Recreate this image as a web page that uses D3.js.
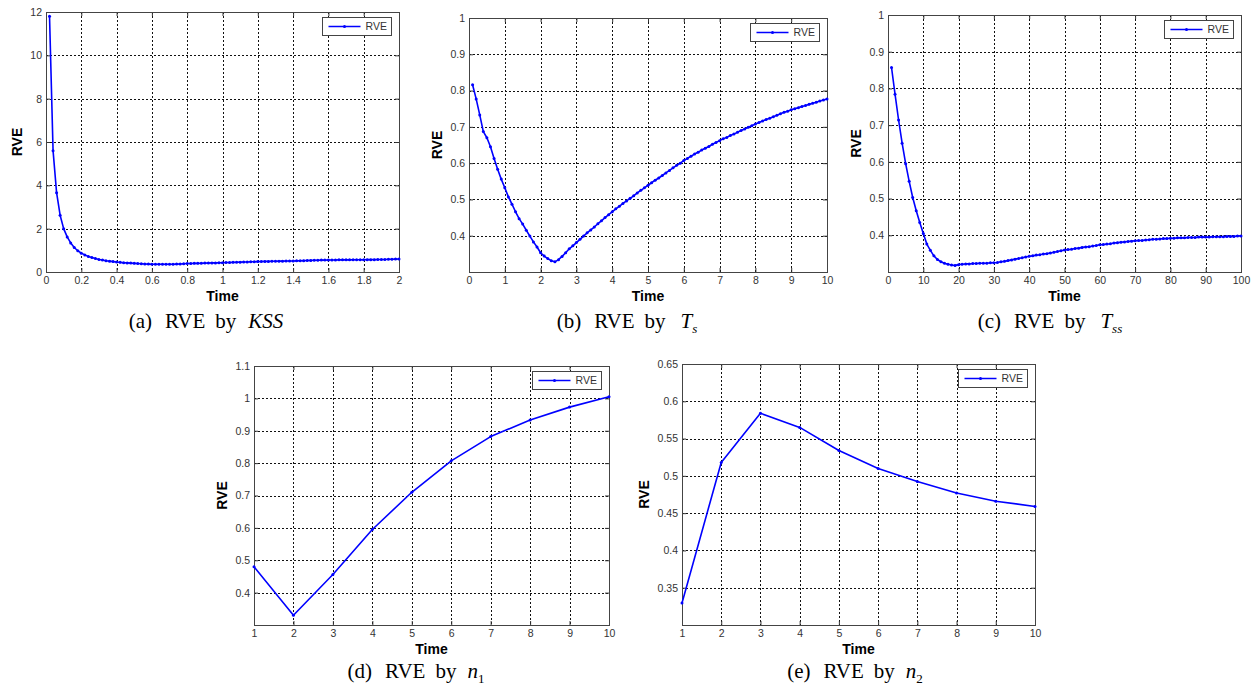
<!DOCTYPE html>
<html>
<head>
<meta charset="utf-8">
<script src="https://cdn.jsdelivr.net/npm/d3@7"></script>
<style>
  body { margin: 0; background: #fff; }
  svg { display: block; }
</style>
</head>
<body>
<svg id="fig" width="1255" height="687"></svg>
<script>
// (a) KSS
const kssTime = d3.range(1, 101).map(i => +(i * 0.02).toFixed(2))
const kssRve = [
  11.8, 5.6, 3.66, 2.62, 2.0, 1.62, 1.34, 1.13, 0.98, 0.87,
  0.79, 0.72, 0.67, 0.62, 0.58, 0.55, 0.52, 0.50, 0.48, 0.46,
  0.445, 0.43, 0.42, 0.41, 0.40, 0.39, 0.38, 0.37, 0.365, 0.36,
  0.355, 0.355, 0.355, 0.355, 0.355, 0.36, 0.365, 0.37, 0.38, 0.39,
  0.395, 0.40, 0.40, 0.405, 0.41, 0.415, 0.42, 0.42, 0.425, 0.43,
  0.435, 0.44, 0.445, 0.45, 0.455, 0.46, 0.465, 0.47, 0.475, 0.48,
  0.485, 0.49, 0.49, 0.495, 0.495, 0.50, 0.50, 0.505, 0.505, 0.51,
  0.515, 0.52, 0.525, 0.53, 0.535, 0.54, 0.545, 0.55, 0.55, 0.555,
  0.555, 0.555, 0.56, 0.56, 0.56, 0.56, 0.565, 0.565, 0.565, 0.565,
  0.57, 0.57, 0.57, 0.575, 0.575, 0.58, 0.585, 0.59, 0.595, 0.60
]
const kssXTicks = [0, 0.2, 0.4, 0.6, 0.8, 1, 1.2, 1.4, 1.6, 1.8, 2]
const kssYTicks = [0, 2, 4, 6, 8, 10, 12]

// (b) Ts
const tsTime = d3.range(1, 101).map(i => i / 10)
const tsRve = [
  0.816, 0.777, 0.733, 0.687, 0.670, 0.645, 0.613, 0.583, 0.556, 0.532,
  0.507, 0.487, 0.466, 0.447, 0.432, 0.415, 0.399, 0.383, 0.369, 0.353,
  0.344, 0.337, 0.331, 0.328, 0.334, 0.343, 0.353, 0.364, 0.372, 0.381,
  0.390, 0.399, 0.408, 0.416, 0.424, 0.433, 0.441, 0.450, 0.458, 0.466,
  0.474, 0.481, 0.489, 0.496, 0.503, 0.510, 0.518, 0.525, 0.532, 0.539,
  0.546, 0.553, 0.559, 0.566, 0.573, 0.580, 0.587, 0.594, 0.600, 0.607,
  0.613, 0.619, 0.625, 0.630, 0.636, 0.641, 0.646, 0.652, 0.657, 0.662,
  0.667, 0.671, 0.676, 0.680, 0.685, 0.690, 0.694, 0.699, 0.703, 0.708,
  0.712, 0.716, 0.720, 0.724, 0.728, 0.732, 0.736, 0.740, 0.743, 0.747,
  0.750, 0.753, 0.756, 0.759, 0.762, 0.765, 0.768, 0.771, 0.774, 0.777
]
const tsXTicks = [0, 1, 2, 3, 4, 5, 6, 7, 8, 9, 10]
const tsYTicks = [0.4, 0.5, 0.6, 0.7, 0.8, 0.9, 1]

// (c) Tss
const tssTime = d3.range(1, 101)
const tssRve = [
  0.857, 0.784, 0.714, 0.651, 0.595, 0.547, 0.503, 0.467, 0.435, 0.405,
  0.376, 0.359, 0.344, 0.334, 0.328, 0.324, 0.321, 0.319, 0.318, 0.320,
  0.321, 0.322, 0.322, 0.323, 0.323, 0.324, 0.324, 0.324, 0.325, 0.325,
  0.326, 0.328, 0.329, 0.331, 0.333, 0.335, 0.337, 0.339, 0.341, 0.343,
  0.344, 0.346, 0.347, 0.349, 0.350, 0.352, 0.354, 0.356, 0.358, 0.360,
  0.361, 0.362, 0.364, 0.365, 0.367, 0.368, 0.369, 0.371, 0.372, 0.374,
  0.375, 0.376, 0.377, 0.379, 0.380, 0.381, 0.382, 0.383, 0.384, 0.385,
  0.386, 0.386, 0.387, 0.388, 0.389, 0.389, 0.390, 0.391, 0.391, 0.392,
  0.392, 0.393, 0.393, 0.393, 0.394, 0.394, 0.394, 0.395, 0.395, 0.395,
  0.395, 0.396, 0.396, 0.396, 0.396, 0.397, 0.397, 0.397, 0.398, 0.398
]
const tssXTicks = [0, 10, 20, 30, 40, 50, 60, 70, 80, 90, 100]
const tssYTicks = [0.4, 0.5, 0.6, 0.7, 0.8, 0.9, 1]

// (d) n1
const n1Time = [1, 2, 3, 4, 5, 6, 7, 8, 9, 10]
const n1Rve = [0.480, 0.330, 0.456, 0.595, 0.710, 0.807, 0.882, 0.933, 0.973, 1.005]
const n1XTicks = [1, 2, 3, 4, 5, 6, 7, 8, 9, 10]
const n1YTicks = [0.4, 0.5, 0.6, 0.7, 0.8, 0.9, 1, 1.1]

// (e) n2
const n2Time = [1, 2, 3, 4, 5, 6, 7, 8, 9, 10]
const n2Rve = [0.3295, 0.518, 0.584, 0.565, 0.534, 0.510, 0.4925, 0.477, 0.466, 0.459]
const n2XTicks = [1, 2, 3, 4, 5, 6, 7, 8, 9, 10]
const n2YTicks = [0.35, 0.4, 0.45, 0.5, 0.55, 0.6, 0.65]

const panels = [
  { box: [46, 12, 399, 272], xDomain: [0, 2], yDomain: [0, 12], xTicks: kssXTicks, yTicks: kssYTicks,
    xs: kssTime, ys: kssRve, capX: 206, capY: 328,
    caption: [{ t: '(a)' }, { t: 'RVE', dx: 13 }, { t: 'by', dx: 10 }, { t: 'KSS', dx: 12, it: true }] },
  { box: [469, 18, 827, 272], xDomain: [0, 10], yDomain: [0.3, 1], xTicks: tsXTicks, yTicks: tsYTicks,
    xs: tsTime, ys: tsRve, capX: 627, capY: 328,
    caption: [{ t: '(b)' }, { t: 'RVE', dx: 13 }, { t: 'by', dx: 10 }, { t: 'T', dx: 15, it: true }, { t: 's', it: true, sub: true }] },
  { box: [888, 15, 1241, 272], xDomain: [0, 100], yDomain: [0.3, 1], xTicks: tssXTicks, yTicks: tssYTicks,
    xs: tssTime, ys: tssRve, capX: 1050, capY: 328,
    caption: [{ t: '(c)' }, { t: 'RVE', dx: 13 }, { t: 'by', dx: 10 }, { t: 'T', dx: 15, it: true }, { t: 'ss', it: true, sub: true }] },
  { box: [254, 366, 609, 625], xDomain: [1, 10], yDomain: [0.3, 1.1], xTicks: n1XTicks, yTicks: n1YTicks,
    xs: n1Time, ys: n1Rve, capX: 416, capY: 678,
    caption: [{ t: '(d)' }, { t: 'RVE', dx: 13 }, { t: 'by', dx: 10 }, { t: 'n', dx: 11, it: true }, { t: '1', sub: true }] },
  { box: [682, 364, 1035, 625], xDomain: [1, 10], yDomain: [0.3, 0.65], xTicks: n2XTicks, yTicks: n2YTicks,
    xs: n2Time, ys: n2Rve, capX: 855, capY: 678,
    caption: [{ t: '(e)' }, { t: 'RVE', dx: 13 }, { t: 'by', dx: 10 }, { t: 'n', dx: 11, it: true }, { t: '2', sub: true }] }
]

const svg = d3.select('#fig')
const sans = 'Liberation Sans, Arial, sans-serif'
const serif = 'Liberation Serif, Times New Roman, serif'
const blue = '#0000ff'
const fmt = d3.format('~g')

panels.forEach(drawPanel)

function drawPanel(p) {
  const [l, t, r, b] = p.box
  const x = d3.scaleLinear().domain(p.xDomain).range([l, r])
  const y = d3.scaleLinear().domain(p.yDomain).range([b, t])
  const g = svg.append('g')

  // dotted grid
  const grid = g.append('g')
    .attr('stroke', '#111').attr('stroke-width', 1).attr('stroke-dasharray', '2,2')
  grid.selectAll('.vg')
    .data(p.xTicks.filter(v => v > p.xDomain[0] && v < p.xDomain[1]))
    .join('line')
    .attr('x1', d => Math.round(x(d)) + 0.5).attr('x2', d => Math.round(x(d)) + 0.5)
    .attr('y1', t).attr('y2', b)
  grid.selectAll('.hg')
    .data(p.yTicks.filter(v => v > p.yDomain[0] && v < p.yDomain[1]))
    .join('line')
    .attr('y1', d => Math.round(y(d)) + 0.5).attr('y2', d => Math.round(y(d)) + 0.5)
    .attr('x1', l).attr('x2', r)

  // ticks on all four sides, labels left and bottom
  const styleAxis = sel => {
    sel.select('.domain').remove()
    sel.selectAll('.tick line').attr('stroke', '#333')
    sel.selectAll('.tick text').attr('fill', '#333')
      .style('font-family', sans).style('font-size', '10.5px')
  }
  g.append('g').attr('transform', `translate(0,${b})`)
    .call(d3.axisBottom(x).tickValues(p.xTicks).tickFormat(fmt).tickSize(-4).tickPadding(5))
    .call(styleAxis)
  g.append('g').attr('transform', `translate(0,${t})`)
    .call(d3.axisTop(x).tickValues(p.xTicks).tickFormat('').tickSize(-4))
    .call(styleAxis)
  const yAx = g.append('g').attr('transform', `translate(${l},0)`)
    .call(d3.axisLeft(y).tickValues(p.yTicks).tickFormat(fmt).tickSize(-4).tickPadding(4))
    .call(styleAxis)
  g.append('g').attr('transform', `translate(${r},0)`)
    .call(d3.axisRight(y).tickValues(p.yTicks).tickFormat('').tickSize(-4))
    .call(styleAxis)

  g.append('rect')
    .attr('x', Math.round(l) + 0.5).attr('y', Math.round(t) + 0.5)
    .attr('width', Math.round(r - l)).attr('height', Math.round(b - t))
    .attr('fill', 'none').attr('stroke', '#444')

  // series
  const pts = p.xs.map((v, i) => [v, p.ys[i]])
  g.append('path').datum(pts)
    .attr('fill', 'none').attr('stroke', blue).attr('stroke-width', 1.6)
    .attr('stroke-linejoin', 'round')
    .attr('d', d3.line().x(d => x(d[0])).y(d => y(d[1])))
  g.append('g').attr('fill', blue).selectAll('circle').data(pts).join('circle')
    .attr('cx', d => x(d[0])).attr('cy', d => y(d[1])).attr('r', 1.5)

  // legend
  const lw = 69, lh = 18
  const lx = Math.round(r - 8 - lw), ly = Math.round(t + 5)
  const leg = g.append('g').attr('transform', `translate(${lx + 0.5},${ly + 0.5})`)
  leg.append('rect').attr('width', lw).attr('height', lh).attr('fill', '#fff').attr('stroke', '#444')
  leg.append('line').attr('x1', 6).attr('x2', 38).attr('y1', lh / 2).attr('y2', lh / 2)
    .attr('stroke', blue).attr('stroke-width', 1.6)
  leg.append('circle').attr('cx', 22).attr('cy', lh / 2).attr('r', 1.5).attr('fill', blue)
  leg.append('text').attr('x', 43).attr('y', lh / 2).attr('dy', '0.36em')
    .attr('fill', '#333').style('font-family', sans).style('font-size', '10.5px').text('RVE')

  // axis labels
  g.append('text').attr('x', (l + r) / 2).attr('y', b + 29)
    .attr('text-anchor', 'middle').attr('fill', '#000')
    .style('font-family', sans).style('font-size', '14px').style('font-weight', 'bold')
    .text('Time')
  let tw = 0
  yAx.selectAll('.tick text').each(function () { tw = Math.max(tw, this.getBBox().width) })
  const cx = l - tw - 17
  g.append('text').attr('transform', `translate(${cx + 5},${(t + b) / 2}) rotate(-90)`)
    .attr('text-anchor', 'middle').attr('fill', '#000')
    .style('font-family', sans).style('font-size', '14px').style('font-weight', 'bold')
    .text('RVE')

  // caption
  const cap = svg.append('text').attr('x', p.capX).attr('y', p.capY)
    .attr('text-anchor', 'middle').attr('fill', '#000')
    .style('font-family', serif).style('font-size', '21px')
  p.caption.forEach(c => {
    const ts = cap.append('tspan').text(c.t)
    if (c.dx) ts.attr('dx', c.dx)
    if (c.it) ts.style('font-style', 'italic')
    if (c.sub) ts.attr('dy', 5).style('font-size', '13px')
  })
}
</script>
</body>
</html>
